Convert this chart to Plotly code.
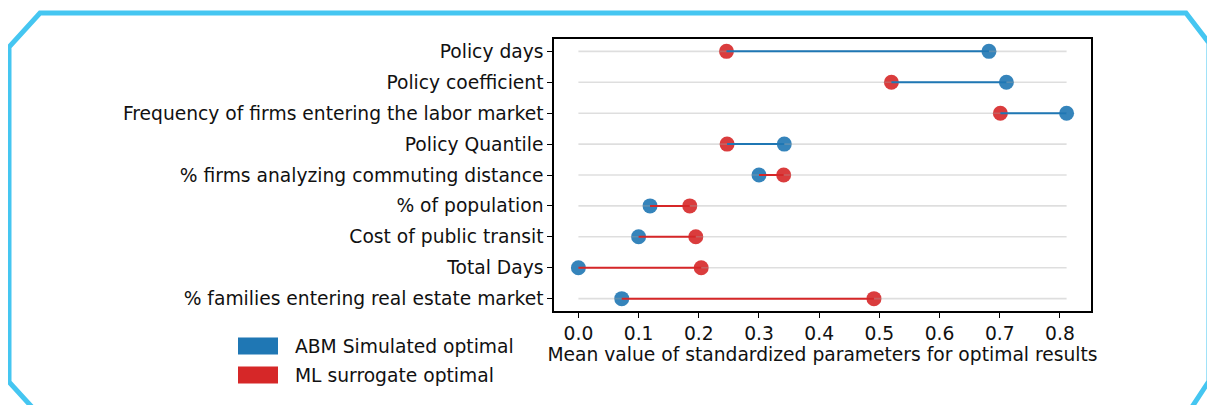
import plotly.graph_objects as go

categories = [
    "Policy days",
    "Policy coefficient",
    "Frequency of firms entering the labor market",
    "Policy Quantile",
    "% firms analyzing commuting distance",
    "% of population",
    "Cost of public transit",
    "Total Days",
    "% families entering real estate market",
]
abm_values = [0.682, 0.711, 0.811, 0.342, 0.300, 0.119, 0.100, 0.000, 0.072]
ml_values = [0.246, 0.520, 0.701, 0.247, 0.341, 0.185, 0.195, 0.204, 0.491]
x_ticks = [0.0, 0.1, 0.2, 0.3, 0.4, 0.5, 0.6, 0.7, 0.8]
legend_labels = ["ABM Simulated optimal", "ML surrogate optimal"]
x_title = "Mean value of standardized parameters for optimal results"

BLUE = "#1f77b4"
RED = "#d62728"
FS = 18.7
OFF = 8  # page body margin offset
W, H = 1215 - OFF, 405 - OFF
L, R, T, B = 554 - OFF, 1091 - OFF, 39 - OFF, 311 - OFF

def px(x):
    return (x - OFF - L) / (R - L)

def py(y):
    return (B - (y - OFF)) / (B - T)

rows = list(range(len(categories)))
all_vals = abm_values + ml_values
vmin, vmax = min(all_vals), max(all_vals)
span = vmax - vmin

fig = go.Figure()

# markers
fig.add_trace(go.Scatter(x=abm_values, y=rows, mode="markers",
                         marker=dict(color=BLUE, size=15, opacity=0.9, line=dict(width=0)),
                         showlegend=False, hoverinfo="x"))
fig.add_trace(go.Scatter(x=ml_values, y=rows, mode="markers",
                         marker=dict(color=RED, size=15, opacity=0.9, line=dict(width=0)),
                         showlegend=False, hoverinfo="x"))

# grid lines and connectors drawn over markers
for i in rows:
    fig.add_trace(go.Scatter(x=[vmin, vmax], y=[i, i], mode="lines",
                             line=dict(color="rgba(160,160,160,0.35)", width=1.6),
                             showlegend=False, hoverinfo="skip"))
for i in rows:
    a, m = abm_values[i], ml_values[i]
    col = BLUE if a >= m else RED
    fig.add_trace(go.Scatter(x=[a, m], y=[i, i], mode="lines",
                             line=dict(color=col, width=2),
                             showlegend=False, hoverinfo="skip"))

shapes = []
# legend patches
for k, (col, cy) in enumerate([(BLUE, 346), (RED, 375)]):
    shapes.append(dict(type="rect", xref="paper", yref="paper",
                       x0=px(238), x1=px(278), y0=py(cy + 8.5), y1=py(cy - 8.5),
                       fillcolor=col, line=dict(width=0)))
# cyan frame
pts = [(42, 418), (9, 382), (9, 47), (40, 13), (1186, 13), (1209, 43), (1209, 381), (1190, 410)]
path = "M " + " L ".join(f"{px(x)},{py(y)}" for x, y in pts)
shapes.append(dict(type="path", xref="paper", yref="paper", path=path,
                   line=dict(color="#45c6f1", width=5), fillcolor="rgba(0,0,0,0)"))

annotations = []
for k, (lab, cy) in enumerate(zip(legend_labels, [346, 375])):
    annotations.append(dict(text=lab, xref="paper", yref="paper", x=px(293), y=py(cy),
                            xanchor="left", yanchor="middle", showarrow=False,
                            font=dict(family="DejaVu Sans", size=FS, color="#111")))

xlo = vmin - 0.05 * span
xhi = vmax + 0.05 * span

fig.update_layout(
    width=W, height=H,
    margin=dict(l=L, r=W - R, t=T, b=H - B, pad=0),
    paper_bgcolor="white", plot_bgcolor="white",
    font=dict(family="DejaVu Sans", size=FS, color="#111"),
    shapes=shapes, annotations=annotations,
    showlegend=False,
    xaxis=dict(range=[xlo, xhi], tickvals=x_ticks, ticktext=[f"{v:.1f}" for v in x_ticks],
               showgrid=False, zeroline=False, showline=True, mirror=True,
               linecolor="black", linewidth=1.5, ticks="outside", ticklen=5,
               tickcolor="black", tickwidth=1.2,
               title=dict(text=x_title, standoff=4, font=dict(size=FS))),
    yaxis=dict(range=[len(categories) - 1 + 0.4, -0.4], tickvals=rows, ticktext=categories,
               showgrid=False, zeroline=False, showline=True, mirror=True,
               linecolor="black", linewidth=1.5, ticks="outside", ticklen=5,
               tickcolor="black", tickwidth=1.2),
)

fig.write_html("out.html")
